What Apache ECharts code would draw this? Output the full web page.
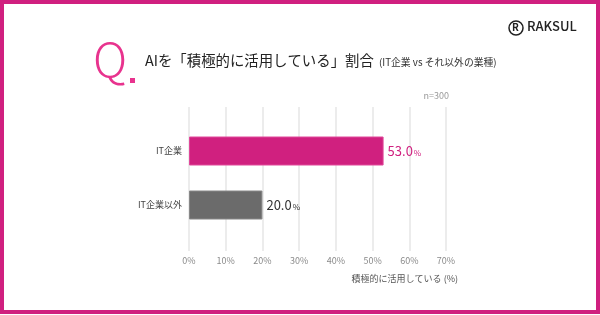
<!DOCTYPE html>
<html>
<head>
<meta charset="utf-8">
<script src="https://cdn.jsdelivr.net/npm/echarts@6/dist/echarts.min.js"></script>
<style>
  html, body { margin: 0; padding: 0; background: #fff; }
  #chart { width: 600px; height: 315px; }
</style>
</head>
<body>
<div id="chart"></div>
<script>
// data
var categories = ['IT企業', 'IT企業以外'];
var values = [53.0, 20.0];
var barColors = ['#d0207f', '#6b6b6b'];
var labelColors = ['#d0207f', '#333333'];
var xTicks = [0, 10, 20, 30, 40, 50, 60, 70];

var PINK = '#d0207f';
var FONT = '"Noto Sans CJK JP", "Noto Sans", sans-serif';

var chart = echarts.init(document.getElementById('chart'));

chart.setOption({
  backgroundColor: '#fff',
  textStyle: { fontFamily: FONT },
  animation: false,
  grid: [
    { left: 189, right: 154, top: 107, bottom: 64 },
    { left: 189, right: 154, top: 124, height: 108 }
  ],
  xAxis: [
    {
      gridIndex: 0, type: 'value', min: xTicks[0], max: xTicks[xTicks.length - 1], interval: 10,
      axisLine: { show: false }, axisTick: { show: false },
      splitLine: { lineStyle: { color: '#ececec', width: 2 } },
      axisLabel: { formatter: '{value}%', color: '#8a8a8a', fontSize: 9, margin: 5 }
    },
    {
      gridIndex: 1, type: 'value', min: xTicks[0], max: xTicks[xTicks.length - 1], interval: 10,
      show: false
    }
  ],
  yAxis: [
    {
      gridIndex: 0, type: 'category', data: categories, show: false
    },
    {
      gridIndex: 1, type: 'category', data: categories, inverse: true,
      axisLine: { show: false }, axisTick: { show: false },
      axisLabel: { color: '#444', fontSize: 9, margin: 7 }
    }
  ],
  series: [{
    type: 'bar',
    xAxisIndex: 1, yAxisIndex: 1,
    barWidth: 29,
    data: values.map(function (v, i) {
      return {
        value: v,
        itemStyle: { color: barColors[i], borderColor: i === 0 ? '#e0489a' : '#888', borderWidth: 1 },
        label: { color: labelColors[i] }
      };
    }),
    label: {
      show: true, position: 'right', distance: 4,
      formatter: function (p) { return '{v|' + p.value.toFixed(1) + '}{u|%}'; },
      rich: {
        v: { fontSize: 13, fontFamily: FONT },
        u: { fontSize: 8, fontFamily: FONT, padding: [3, 0, 0, 1] }
      }
    }
  }],
  graphic: [
    // frame
    { type: 'rect', shape: { x: 2, y: 2, width: 596, height: 310 }, style: { fill: 'none', stroke: PINK, lineWidth: 4 }, silent: true },
    // Q.
    { type: 'text', left: 93, top: 36, style: { text: 'Q', fill: '#e8338e', font: '300 47px ' + FONT } },
    { type: 'rect', shape: { x: 130, y: 78, width: 5, height: 5 }, style: { fill: '#e8338e' } },
    // title
    { type: 'text', left: 145, top: 53, style: { text: 'AIを「積極的に活用している」割合', fill: '#222', font: '14.4px ' + FONT } },
    { type: 'text', left: 379, top: 57, style: { text: '(IT企業 vs それ以外の業種)', fill: '#333', font: '9.8px ' + FONT } },
    // n=300
    { type: 'text', right: 151, top: 91, style: { text: 'n=300', fill: '#999', font: '9px ' + FONT } },
    // axis name
    { type: 'text', right: 142, top: 274, style: { text: '積極的に活用している (%)', fill: '#555', font: '9px ' + FONT } },
    // logo
    { type: 'circle', shape: { cx: 516, cy: 28, r: 7 }, style: { fill: 'none', stroke: '#222', lineWidth: 1.5 } },
    { type: 'text', left: 512, top: 22, style: { text: 'R', fill: '#222', font: 'bold 10px ' + FONT } },
    { type: 'text', left: 527, top: 20, style: { text: 'RAKSUL', fill: '#222', font: '500 13px ' + FONT } }
  ]
});
</script>
</body>
</html>
